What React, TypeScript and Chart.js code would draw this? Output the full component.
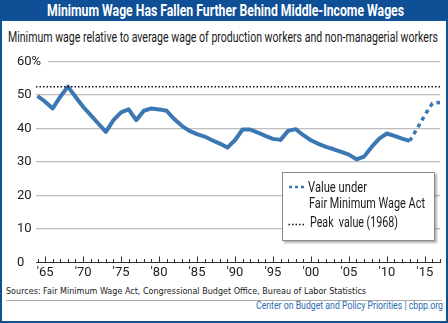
import React, { useEffect, useRef } from "react";
import { Chart, registerables } from "chart.js";
Chart.register(...registerables);

// ---- data ----
const years = [
  1964, 1965, 1966, 1967, 1968, 1969, 1970, 1971, 1972, 1973, 1974, 1975, 1976,
  1977, 1978, 1979, 1980, 1981, 1982, 1983, 1984, 1985, 1986, 1987, 1988, 1989,
  1990, 1991, 1992, 1993, 1994, 1995, 1996, 1997, 1998, 1999, 2000, 2001, 2002,
  2003, 2004, 2005, 2006, 2007, 2008, 2009, 2010, 2011, 2012, 2013,
];
const ratio = [
  49.7, 48, 46, 49.5, 52.5, 49.5, 46.5, 44, 41.5, 39, 42.5, 44.8, 45.7,
  42.5, 45.3, 46, 45.7, 45.3, 42.8, 40.8, 39.3, 38.3, 37.6, 36.5, 35.5, 34.3,
  36.5, 39.7, 39.7, 38.8, 37.8, 36.9, 36.6, 39.3, 39.8, 38, 36.5, 35.4, 34.5,
  33.8, 33, 32.2, 30.8, 31.6, 34.5, 37, 38.5, 37.8, 37, 36.3,
];
const actYears = [2013, 2014, 2015, 2016, 2017];
const actValues = [36.3, 40, 44, 47.5, 47.8];
const peakValue = 52.5;
const xMin = 1963.8;
const xMax = 2017;
const yTicks = [0, 10, 20, 30, 40, 50, 60];
const labelYears = [1965, 1970, 1975, 1980, 1985, 1990, 1995, 2000, 2005, 2010, 2015];

const TITLE = "Minimum Wage Has Fallen Further Behind Middle-Income Wages";
const SUBTITLE =
  "Minimum wage relative to average wage of production workers and non-managerial workers";
const SOURCES =
  "Sources: Fair Minimum Wage Act, Congressional Budget Office, Bureau of Labor Statistics";
const CREDIT = "Center on Budget and Policy Priorities | cbpp.org";
const LEGEND_ACT_1 = "Value under";
const LEGEND_ACT_2 = "Fair Minimum Wage Act";
const LEGEND_PEAK = "Peak\u00a0 value (1968)";

const SANS = "Roboto, sans-serif";
const BLUE_FRAME = "#0f4f95";
const LINE_BLUE = "#3a77b3";

let measureCtx: CanvasRenderingContext2D | null = null;
function measure(text: string, font: string) {
  if (!measureCtx) measureCtx = document.createElement("canvas").getContext("2d");
  measureCtx!.font = font;
  return measureCtx!.measureText(text).width;
}

function FitText(props: {
  text: string;
  left: number;
  top: number;
  width: number;
  size: number;
  family?: string;
  weight?: string;
  color?: string;
  lineHeight: number;
}) {
  const family = props.family || SANS;
  const weight = props.weight || "normal";
  const natural = measure(props.text, `${weight} ${props.size}px ${family}`);
  const s = natural > 0 ? props.width / natural : 1;
  return (
    <div
      style={{
        position: "absolute",
        left: props.left,
        top: props.top,
        whiteSpace: "nowrap",
        fontFamily: family,
        fontWeight: weight as any,
        fontSize: props.size,
        lineHeight: props.lineHeight + "px",
        color: props.color || "#1a1a1a",
        transform: `scaleX(${s})`,
        transformOrigin: "left top",
      }}
    >
      {props.text}
    </div>
  );
}

const yearTicksPlugin = {
  id: "yearTicks",
  afterDatasetsDraw(chart: any) {
    const xs = chart.scales.x;
    const ys = chart.scales.y;
    const ctx = chart.ctx;
    const base = ys.getPixelForValue(0);
    ctx.save();
    ctx.strokeStyle = "#333";
    ctx.lineWidth = 1;
    for (let yr = Math.ceil(xMin); yr <= xMax; yr++) {
      const px = Math.round(xs.getPixelForValue(yr)) + 0.5;
      const len = yr % 5 === 0 ? 6 : 3.5;
      ctx.beginPath();
      ctx.moveTo(px, base);
      ctx.lineTo(px, base - len);
      ctx.stroke();
    }
    ctx.restore();
  },
};

function ChartCanvas() {
  const ref = useRef<HTMLCanvasElement | null>(null);
  useEffect(() => {
    if (!ref.current) return;
    const chart = new Chart(ref.current, {
      type: "line",
      data: {
        datasets: [
          {
            label: "Peak value (1968)",
            data: [
              { x: xMin, y: peakValue },
              { x: xMax, y: peakValue },
            ],
            borderColor: "#111",
            borderWidth: 1.5,
            borderDash: [1.5, 2],
            pointRadius: 0,
          },
          {
            label: "Minimum wage ratio",
            data: years.map((y, i) => ({ x: y, y: ratio[i] })),
            borderColor: LINE_BLUE,
            borderWidth: 4,
            pointRadius: 0,
            borderJoinStyle: "round",
            tension: 0,
          },
          {
            label: "Value under Fair Minimum Wage Act",
            data: actYears.map((y, i) => ({ x: y, y: actValues[i] })),
            borderColor: LINE_BLUE,
            borderWidth: 3.5,
            borderDash: [4, 4],
            pointRadius: 0,
          },
        ],
      },
      options: {
        animation: false,
        responsive: true,
        maintainAspectRatio: false,
        layout: { padding: { top: 16.5, left: 36, right: 8, bottom: 0 } },
        plugins: { legend: { display: false }, tooltip: { enabled: false } },
        scales: {
          x: {
            type: "linear",
            min: xMin,
            max: xMax,
            afterBuildTicks: (s: any) => {
              s.ticks = labelYears.map((v) => ({ value: v }));
            },
            afterFit: (s: any) => {
              s.height = 22.5;
            },
            ticks: {
              autoSkip: false,
              maxRotation: 0,
              padding: 2,
              color: "#222",
              font: { family: SANS, size: 13 },
              callback: (v: any) => "'" + String(v).slice(2),
            },
            grid: { display: true, drawOnChartArea: false, drawTicks: false, color: "transparent" },
            border: { display: true, color: "#333", width: 1 },
          },
          y: {
            min: 0,
            max: 60,
            afterBuildTicks: (s: any) => {
              s.ticks = yTicks.map((v) => ({ value: v }));
            },
            afterFit: (s: any) => {
              s.width = 0;
            },
            ticks: {
              z: 1,
              mirror: true,
              crossAlign: "near",
              padding: -19,
              color: "#222",
              font: { family: SANS, size: 13 },
              callback: (v: any) => (v === 60 ? "60%" : String(v)),
              showLabelBackdrop: (c: any) => !!(c.tick && c.tick.value === 60),
              backdropColor: "#ffffff",
              backdropPadding: { left: 0, right: 7, top: 1, bottom: 1 },
            },
            grid: {
              z: -1,
              drawTicks: false,
              lineWidth: 1.2,
              color: (c: any) => (c.tick && c.tick.value === 0 ? "transparent" : "#bdbdbd"),
            },
            border: { display: false },
          },
        },
      },
      plugins: [yearTicksPlugin],
    } as any);
    return () => chart.destroy();
  }, []);
  return <canvas ref={ref} />;
}

export default function App() {
  useEffect(() => {
    document.body.style.margin = "0";
  }, []);
  return (
    <div
      style={{
        position: "relative",
        width: 448,
        height: 323,
        background: "#fff",
        overflow: "hidden",
      }}
    >
      <div style={{ position: "absolute", left: 0, top: 0, width: 448, height: 21, background: BLUE_FRAME }} />
      <div style={{ position: "absolute", left: 0, top: 0, width: 2, height: 323, background: BLUE_FRAME }} />
      <div style={{ position: "absolute", right: 0, top: 0, width: 2, height: 323, background: BLUE_FRAME }} />
      <div style={{ position: "absolute", left: 0, bottom: 0, width: 448, height: 2, background: BLUE_FRAME }} />
      <FitText text={TITLE} left={47} top={0} width={357} size={16} weight="bold" color="#fff" lineHeight={21} />
      <FitText text={SUBTITLE} left={8} top={27.7} width={430} size={15.5} lineHeight={18} />
      <div style={{ position: "absolute", left: 0, top: 45, width: 448, height: 240 }}>
        <ChartCanvas />
      </div>
      <div
        style={{
          position: "absolute",
          left: 282,
          top: 172,
          width: 151,
          height: 67,
          background: "#fff",
          border: "1px solid #8a8a8a",
          boxShadow: "2px 2px 2px rgba(0,0,0,0.3)",
        }}
      />
      <svg style={{ position: "absolute", left: 288, top: 185 }} width="17" height="4">
        <line x1="1" y1="2" x2="17" y2="2" stroke={LINE_BLUE} strokeWidth="2.5" strokeDasharray="3 3" />
      </svg>
      <svg style={{ position: "absolute", left: 288, top: 223 }} width="17" height="3">
        <line x1="0.5" y1="1.5" x2="17" y2="1.5" stroke="#111" strokeWidth="1.5" strokeDasharray="1.5 2" />
      </svg>
      <FitText text={LEGEND_ACT_1} left={308} top={178.7} width={59} size={14} lineHeight={17} />
      <FitText text={LEGEND_ACT_2} left={309} top={194.7} width={116} size={14} lineHeight={17} />
      <FitText text={LEGEND_PEAK} left={310} top={213.7} width={88} size={14} lineHeight={17} />
      <FitText
        text={SOURCES}
        left={6}
        top={285.5}
        width={360}
        size={8.5}
        family='"DejaVu Sans", sans-serif'
        lineHeight={11}
      />
      <div style={{ position: "absolute", left: 6, top: 300, width: 436, height: 1, background: "#a8a8a8" }} />
      <FitText text={CREDIT} left={256} top={300} width={187} size={10} color="#2c6cb0" lineHeight={12} />
    </div>
  );
}
